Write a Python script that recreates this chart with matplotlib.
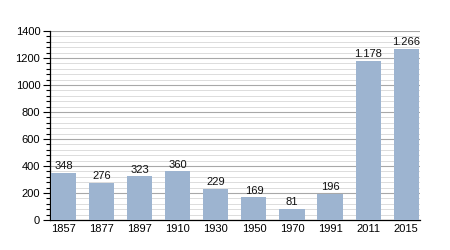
import matplotlib
matplotlib.use("Agg")
import matplotlib.pyplot as plt
from matplotlib.ticker import MultipleLocator

plt.rcParams["font.family"] = ["Liberation Sans", "DejaVu Sans"]

years = ["1857", "1877", "1897", "1910", "1930", "1950", "1970", "1991", "2011", "2015"]
population = [348, 276, 323, 360, 229, 169, 81, 196, 1178, 1266]
labels = ["348", "276", "323", "360", "229", "169", "81", "196", "1.178", "1.266"]

fig = plt.figure(figsize=(4.5, 2.5), dpi=100)
ax = fig.add_axes([0.111, 0.12, 0.822, 0.756])

x = list(range(len(years)))
ax.bar(x, population, width=0.66, color="#9db4d0", zorder=3)
for xi, v, lab in zip(x, population, labels):
    ax.text(xi, v + 12, lab, ha="center", va="bottom", fontsize=8, color="#111111", zorder=4)

ax.set_xlim(-0.36, 9.36)
ax.set_ylim(0, 1400)
ax.yaxis.set_major_locator(MultipleLocator(200))
ax.yaxis.set_minor_locator(MultipleLocator(40))
ax.grid(which="major", axis="y", color="#a8a8a8", linewidth=0.8, zorder=1)
ax.grid(which="minor", axis="y", color="#dcdcdc", linewidth=0.7, zorder=0)
ax.set_xticks(x)
ax.set_xticklabels(years)
ax.tick_params(axis="x", length=0, labelsize=8, pad=3)
ax.tick_params(axis="y", which="major", length=5, width=0.8, labelsize=8, pad=2)
ax.tick_params(axis="y", which="minor", length=3, width=0.8)
for s in ["top", "right"]:
    ax.spines[s].set_visible(False)
ax.spines["left"].set_linewidth(0.9)
ax.spines["bottom"].set_linewidth(0.9)

fig.savefig("out.png", dpi=100)
